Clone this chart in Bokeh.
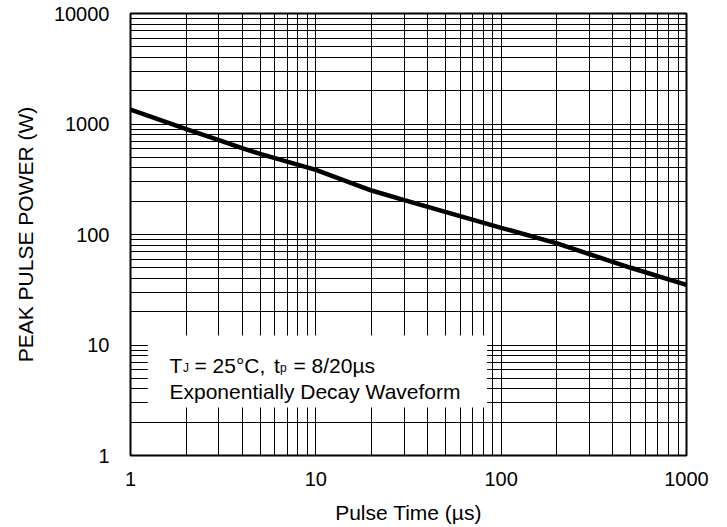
from bokeh.plotting import figure
from bokeh.models import Range1d, FixedTicker, BoxAnnotation, Label
from bokeh.embed import file_html
from bokeh.resources import INLINE

# ---- data ----
pulse_time_us = [1, 2, 3, 4, 5, 10, 20, 30, 100, 200, 500, 1000]
peak_power_w = [1350, 900, 715, 604, 537, 385, 250, 205, 115, 83, 50, 35]

x_ticks = [1, 10, 100, 1000]
x_tick_labels = ["1", "10", "100", "1000"]
y_ticks = [1, 10, 100, 1000, 10000]
y_tick_labels = ["1", "10", "100", "1000", "10000"]
x_minor = [m * d for d in [1, 10, 100] for m in range(2, 10)]
y_minor = [m * d for d in [1, 10, 100, 1000] for m in range(2, 10)]

FONT = "Liberation Sans"

p = figure(width=727, height=527, x_axis_type="log", y_axis_type="log",
           x_range=Range1d(1, 1000), y_range=Range1d(1, 10000),
           output_backend="svg", toolbar_location=None,
           min_border_left=130, min_border_right=41,
           min_border_top=13, min_border_bottom=72)
p.background_fill_color = "white"
p.border_fill_color = "white"
p.outline_line_color = "black"
p.outline_line_width = 2

p.xaxis.ticker = FixedTicker(ticks=x_ticks, minor_ticks=x_minor)
p.yaxis.ticker = FixedTicker(ticks=y_ticks, minor_ticks=y_minor)
p.xaxis.major_label_overrides = {t: l for t, l in zip(x_ticks, x_tick_labels)}
p.yaxis.major_label_overrides = {t: l for t, l in zip(y_ticks, y_tick_labels)}

for ax in (p.xaxis, p.yaxis):
    ax.axis_line_color = None
    ax.major_tick_line_color = None
    ax.minor_tick_line_color = None
    ax.major_tick_in = 0
    ax.major_tick_out = 0
    ax.minor_tick_in = 0
    ax.minor_tick_out = 0
    ax.major_label_text_font = FONT
    ax.major_label_text_font_size = "20px"
    ax.major_label_text_color = "black"
    ax.axis_label_text_font = FONT
    ax.axis_label_text_font_size = "21px"
    ax.axis_label_text_font_style = "normal"
    ax.axis_label_text_color = "black"

p.xaxis.axis_label = "Pulse Time (µs)"
p.yaxis.axis_label = "PEAK PULSE POWER (W)"
p.xaxis.major_label_standoff = 16
p.xaxis.axis_label_standoff = 12
p.yaxis.major_label_standoff = 21
p.yaxis.axis_label_standoff = 14

for g in (p.xgrid, p.ygrid):
    g.grid_line_color = "black"
    g.grid_line_width = 1
    g.minor_grid_line_color = "black"
    g.minor_grid_line_width = 1

p.line(pulse_time_us, peak_power_w, line_color="black", line_width=4.5)

# annotation box with text
box = BoxAnnotation(left=1.24, right=84, bottom=2.72, top=12.2,
                    fill_color="white", fill_alpha=1.0,
                    line_color=None, line_alpha=0)
p.add_layout(box)

def lab(text, dx, dy, size="21px"):
    p.add_layout(Label(x=1, y=1, x_units="data", y_units="data",
                       x_offset=dx, y_offset=dy, text=text,
                       text_font=FONT, text_font_size=size,
                       text_color="black", text_baseline="alphabetic",
                       text_align="left"))

lab("T", 39, 90)
lab("J", 52.5, 87.5, "12px")
lab("= 25°C,", 64, 90)
lab("t", 143.5, 90)
lab("p", 149.5, 87.5, "12px")
lab("= 8/20µs", 163, 90)
lab("Exponentially Decay Waveform", 39, 64.5)

open("out.html", "w").write(file_html(p, INLINE))
